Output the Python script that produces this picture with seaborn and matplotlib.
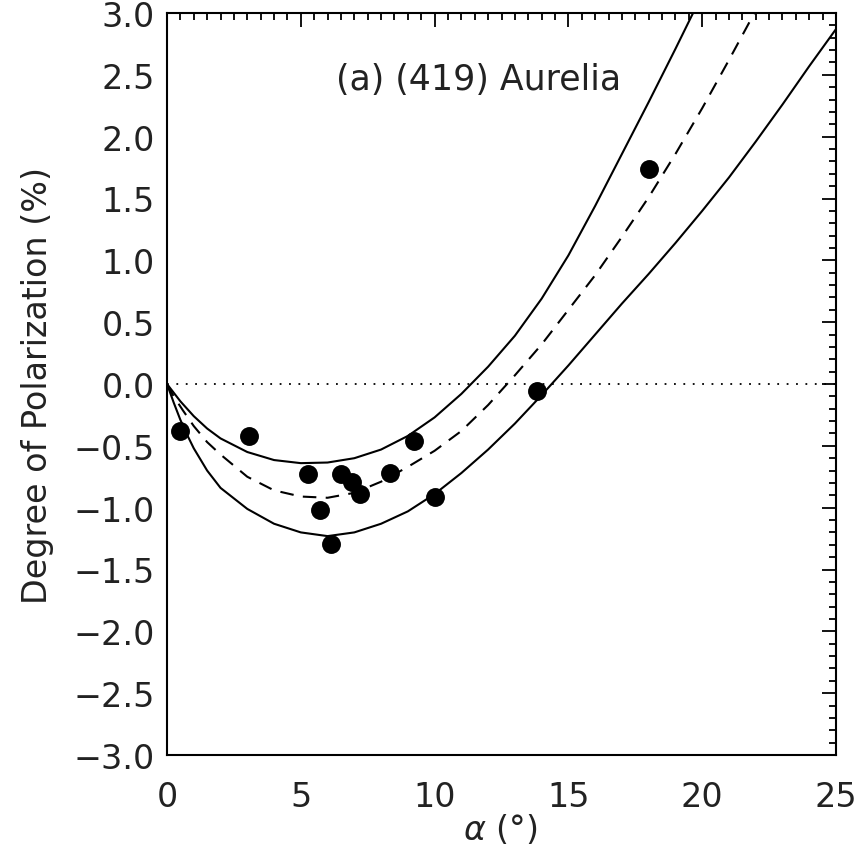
import numpy as np
import pandas as pd
import matplotlib
matplotlib.use("Agg")
import matplotlib.pyplot as plt
import seaborn as sns
from matplotlib.ticker import MultipleLocator, FixedLocator

# observed data (phase angle, degree of polarization)
obs_alpha = [0.49, 3.07, 5.28, 5.70, 6.11, 6.52, 6.90, 7.20, 8.32, 9.22, 10.0, 13.83, 18.03]
obs_pol = [-0.38, -0.42, -0.73, -1.02, -1.29, -0.73, -0.79, -0.89, -0.72, -0.46, -0.91, -0.06, 1.74]

# upper envelope (solid)
up_alpha = [0, 0.25, 0.5, 1, 1.5, 2, 3, 4, 5, 6, 7, 8, 9, 10, 11, 12, 13, 14, 15, 16, 17, 18, 19, 20]
up_pol = [0, -0.07, -0.14, -0.26, -0.36, -0.44, -0.55, -0.615, -0.64, -0.635, -0.60, -0.53, -0.42,
          -0.27, -0.08, 0.14, 0.39, 0.69, 1.04, 1.44, 1.86, 2.28, 2.71, 3.15]

# best fit (dashed)
mid_alpha = [0, 0.25, 0.6, 1, 1.5, 2, 3, 4, 5, 6, 7, 8, 9, 10, 11, 12, 13, 14, 15, 16, 17, 18, 19, 20, 21, 22]
mid_pol = [0, -0.10, -0.215, -0.34, -0.47, -0.57, -0.75, -0.86, -0.91, -0.92, -0.88, -0.79, -0.67,
           -0.54, -0.38, -0.17, 0.07, 0.32, 0.60, 0.88, 1.19, 1.51, 1.86, 2.23, 2.62, 3.02]

# lower envelope (solid)
lo_alpha = [0, 0.25, 0.5, 0.75, 1, 1.5, 2, 3, 4, 5, 6, 7, 8, 9, 10, 11, 12, 13, 14, 15, 16, 17, 18, 19, 20, 21, 22, 23, 24, 25]
lo_pol = [0, -0.15, -0.29, -0.41, -0.52, -0.70, -0.84, -1.01, -1.13, -1.20, -1.23, -1.20, -1.13, -1.03,
          -0.89, -0.72, -0.53, -0.32, -0.09, 0.15, 0.40, 0.65, 0.89, 1.14, 1.40, 1.67, 1.96, 2.26, 2.57, 2.87]

x_ticks = [0, 5, 10, 15, 20, 25]
x_ticklabels = ["0", "5", "10", "15", "20", "25"]
y_ticks = [-3.0, -2.5, -2.0, -1.5, -1.0, -0.5, 0.0, 0.5, 1.0, 1.5, 2.0, 2.5, 3.0]
y_ticklabels = ["\u22123.0", "\u22122.5", "\u22122.0", "\u22121.5", "\u22121.0", "\u22120.5",
                "0.0", "0.5", "1.0", "1.5", "2.0", "2.5", "3.0"]

title_text = "(a) (419) Aurelia"
xlabel = r"$\alpha$ (°)"
ylabel = "Degree of Polarization (%)"

sns.set_theme(style="white")
plt.rcParams["font.family"] = ["DejaVu Sans"]

fig = plt.figure(figsize=(8.63, 8.62), dpi=100)
ax = fig.add_axes([167 / 863, 1 - 756 / 862, (836 - 167) / 863, (756 - 14) / 862])

ax.axhline(0, color="black", lw=1.3, ls=(0, (1, 4.2)), zorder=1)

sns.lineplot(x=up_alpha, y=up_pol, ax=ax, color="black", lw=1.5, sort=False, estimator=None)
sns.lineplot(x=lo_alpha, y=lo_pol, ax=ax, color="black", lw=1.5, sort=False, estimator=None)
sns.lineplot(x=mid_alpha, y=mid_pol, ax=ax, color="black", lw=1.5, sort=False, estimator=None)
ax.lines[-1].set_linestyle((0, (6.5, 4.5)))

sns.scatterplot(x=obs_alpha, y=obs_pol, ax=ax, color="black", s=185, edgecolor="black",
                linewidth=0, zorder=5)

ax.set_xlim(0, 25)
ax.set_ylim(-3.0, 3.0)
ax.xaxis.set_major_locator(FixedLocator(x_ticks))
ax.set_xticklabels(x_ticklabels)
ax.yaxis.set_major_locator(FixedLocator(y_ticks))
ax.set_yticklabels(y_ticklabels)
ax.xaxis.set_minor_locator(MultipleLocator(0.5))
ax.yaxis.set_minor_locator(MultipleLocator(0.1))

ax.tick_params(which="both", direction="in", top=True, right=True, color="black", width=1.3)
ax.tick_params(which="major", length=10)
ax.tick_params(which="minor", length=5)
ax.tick_params(axis="x", which="major", labelsize=24, pad=18, labelcolor="#222222")
ax.tick_params(axis="y", which="major", labelsize=24, pad=9, labelcolor="#222222")

for sp in ax.spines.values():
    sp.set_color("black")
    sp.set_linewidth(1.5)
    sp.set_visible(True)

ax.set_xlabel(xlabel, fontsize=24, color="#222222")
ax.set_ylabel(ylabel, fontsize=24, color="#222222")
ax.xaxis.set_label_coords(0.498, -0.0997)
ax.xaxis.label.set_verticalalignment("center")
ax.yaxis.set_label_coords(-0.194, 0.5)
ax.yaxis.label.set_verticalalignment("center")

ax.text(11.66, 2.47, title_text, fontsize=25, color="#222222", ha="center", va="center")

fig.savefig("out.png", dpi=100)
